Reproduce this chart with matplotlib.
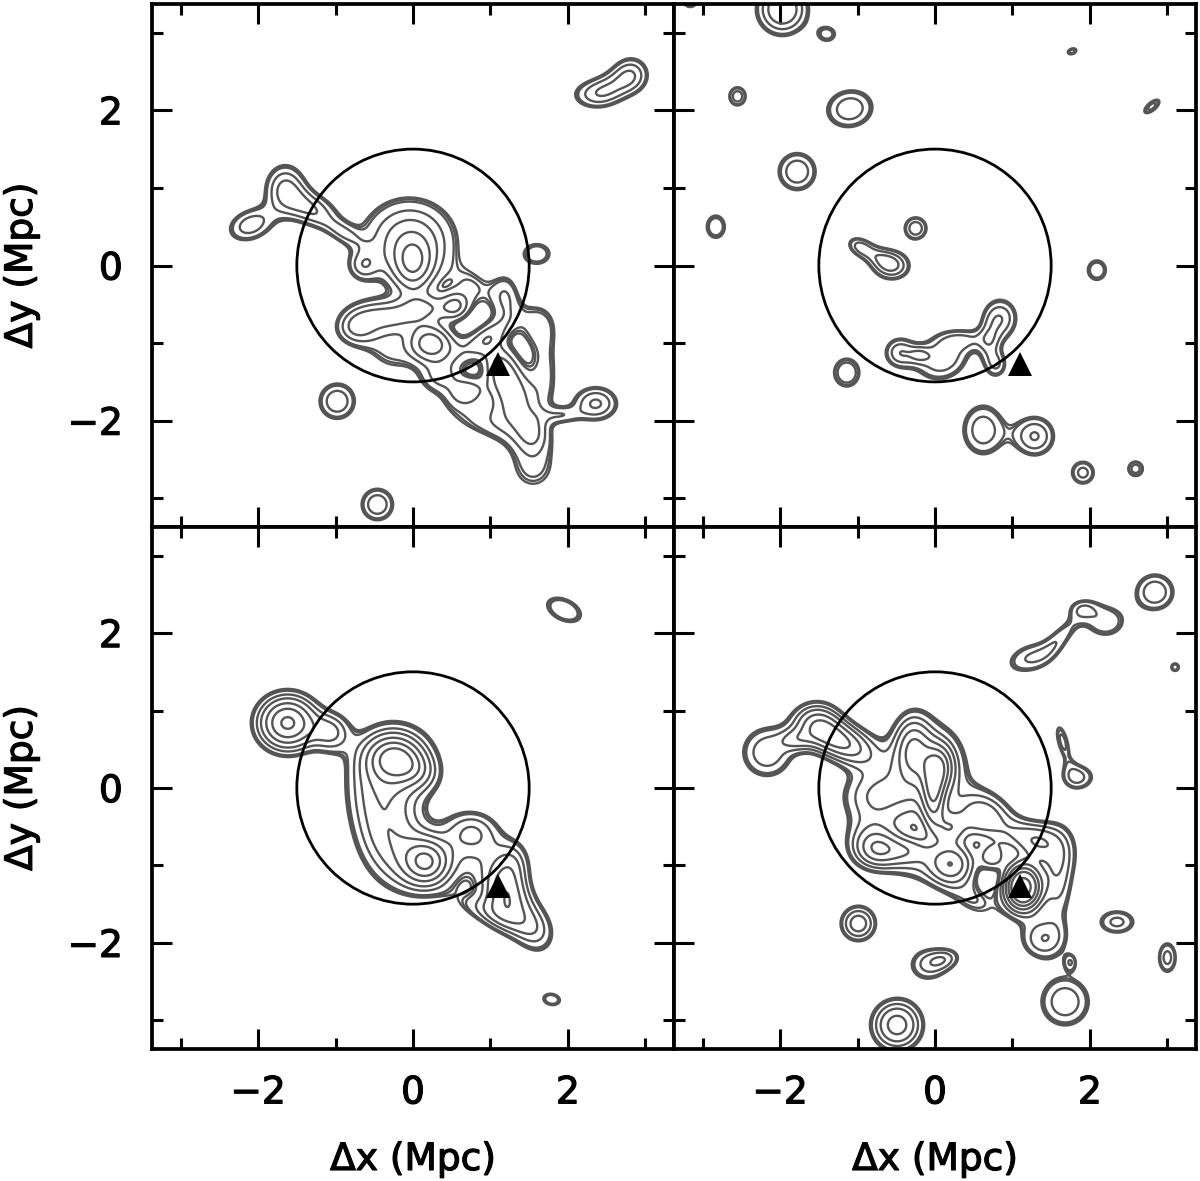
import numpy as np
import matplotlib
matplotlib.use('Agg')
import matplotlib.pyplot as plt
import matplotlib.patheffects as pe
from matplotlib.patches import Circle
from matplotlib.ticker import MultipleLocator

# contour levels and clumps: x, y, sx, sy, angle, peak
levels = [1.0, 1.08, 1.18, 1.6, 2.1, 2.8, 3.6, 4.5, 6, 8]

blobs_tl = [
    (-2.1, 0.52, 0.24, 0.16, 20, 1.9), (-1.65, 1.0, 0.2, 0.24, 0, 2.1),
    (-1.3, 0.72, 0.25, 0.16, -25, 1.9), (-0.9, 0.42, 0.2, 0.09, -30, 1.15),
    (-0.05, 0.32, 0.47, 0.42, 0, 2.4), (0.0, 0.0, 0.18, 0.25, 0, 2.2),
    (-0.65, 0.0, 0.14, 0.14, 0, 1.3), (-0.75, -0.8, 0.2, 0.17, 0, 1.9),
    (-0.35, -0.65, 0.3, 0.15, -10, 1.7), (0.15, -0.55, 0.25, 0.13, 0, 1.6),
    (0.22, -1.0, 0.19, 0.17, 0, 2.7), (-0.3, -1.1, 0.3, 0.25, -30, 1.2),
    (0.55, -0.53, 0.13, 0.13, 0, 1.5), (0.8, -0.3, 0.25, 0.2, -45, 1.0),
    (0.5, -1.1, 0.25, 0.2, 0, 0.9), (1.2, -0.4, 0.14, 0.24, 0, 1.35),
    (0.95, -0.92, 0.28, 0.12, 35, 1.35), (1.15, -1.34, 0.17, 0.28, 20, 2.2),
    (1.35, -1.75, 0.24, 0.27, 0, 1.6), (0.7, -1.62, 0.18, 0.13, 15, 1.5),
    (0.35, -1.45, 0.2, 0.15, 0, 1.4), (0.9, -2.0, 0.5, 0.2, -15, 1.2),
    (1.6, -0.75, 0.22, 0.25, 0, 1.25), (1.72, -1.35, 0.15, 0.35, 0, 1.1),
    (2.36, -1.78, 0.22, 0.17, 0, 2.2), (1.93, -1.93, 0.16, 0.08, 0, 1.1),
    (1.55, -2.15, 0.16, 0.2, 0, 1.15), (1.55, -2.62, 0.3, 0.3, 0, 1.22),
    (1.6, 0.15, 0.18, 0.14, 0, 1.5), (-0.98, -1.75, 0.19, 0.19, 0, 2.05),
    (-0.46, -3.08, 0.17, 0.17, 0, 2.05), (2.82, 2.46, 0.18, 0.18, 0, 1.9),
    (2.32, 2.2, 0.24, 0.15, 0, 1.45), (2.55, 2.3, 0.2, 0.15, 20, 1.1),
]
blobs_tr = [
    (-1.97, 3.3, 0.24, 0.24, 0, 2.8), (-3.16, 3.42, 0.1, 0.1, 0, 1.5),
    (-1.39, 2.98, 0.13, 0.11, 0, 1.3), (-2.55, 2.18, 0.09, 0.1, 0, 2.0),
    (-1.1, 2.02, 0.25, 0.2, 10, 2.0), (-1.78, 1.21, 0.2, 0.2, 0, 2.05),
    (-2.83, 0.5, 0.13, 0.16, 0, 1.5), (-0.25, 0.48, 0.12, 0.12, 0, 2.0),
    (-0.56, 0.0, 0.19, 0.15, 0, 1.95), (-0.98, 0.25, 0.13, 0.09, -25, 1.4),
    (-0.75, 0.12, 0.2, 0.1, -25, 1.1), (0.85, -0.68, 0.17, 0.2, 0, 2.0),
    (0.1, -1.2, 0.27, 0.21, 25, 2.05), (-0.46, -1.12, 0.15, 0.15, 0, 1.9),
    (0.4, -0.95, 0.25, 0.1, 0, 1.1), (0.7, -1.05, 0.1, 0.25, 0, 1.15),
    (0.82, -1.28, 0.1, 0.13, 0, 1.25), (-0.2, -1.15, 0.1, 0.08, 0, 1.0),
    (-1.14, -1.38, 0.2, 0.22, 0, 1.4), (0.62, -2.12, 0.22, 0.27, 0, 1.95),
    (1.29, -2.2, 0.2, 0.2, 0, 2.15), (2.09, -0.06, 0.13, 0.14, 0, 1.5),
    (1.91, -2.67, 0.13, 0.13, 0, 1.8), (2.59, -2.62, 0.08, 0.08, 0, 2.0),
    (2.8, 2.05, 0.18, 0.08, 40, 1.25), (1.77, 2.76, 0.08, 0.05, 20, 1.3),
]
blobs_bl = [
    (-1.62, 0.84, 0.27, 0.25, 0, 4.7), (-1.05, 0.72, 0.17, 0.18, 0, 1.8),
    (-0.26, 0.4, 0.24, 0.2, 0, 2.6), (0.0, 0.25, 0.22, 0.16, -25, 1.3),
    (-0.22, 0.3, 0.42, 0.42, 0, 1.9), (-0.45, -0.25, 0.3, 0.45, 0, 1.7),
    (-0.2, -0.7, 0.3, 0.3, 0, 1.4), (0.18, -0.95, 0.2, 0.2, 0, 3.2),
    (0.0, -1.1, 0.38, 0.3, 0, 1.2), (0.75, -0.55, 0.25, 0.2, 0, 1.7),
    (0.9, -0.9, 0.4, 0.3, 0, 1.0), (1.2, -1.38, 0.2, 0.28, 10, 3.0),
    (1.55, -1.8, 0.2, 0.28, 25, 1.8), (0.95, -1.6, 0.35, 0.13, -20, 1.2),
    (1.3, -0.95, 0.15, 0.2, 0, 1.0), (1.95, 2.3, 0.24, 0.14, -25, 1.6),
    (1.79, -2.73, 0.12, 0.08, -10, 1.5),
]
blobs_br = [
    (-2.17, 0.46, 0.26, 0.26, 0, 2.0), (-1.52, 0.85, 0.22, 0.2, 0, 2.2),
    (-1.22, 0.6, 0.32, 0.17, -25, 3.6), (-1.8, 0.62, 0.15, 0.1, 0, 1.2),
    (-0.28, 0.5, 0.16, 0.28, 0, 2.6), (0.06, 0.28, 0.13, 0.2, 0, 2.6),
    (-0.02, -0.1, 0.1, 0.28, 0, 2.8), (-0.1, 0.2, 0.45, 0.55, 0, 1.8),
    (-0.8, -0.1, 0.33, 0.25, 0, 1.7), (-0.85, -0.7, 0.25, 0.25, 0, 1.5),
    (-0.35, -0.95, 0.35, 0.2, -20, 1.2), (0.5, -1.45, 0.35, 0.2, -30, 1.15),
    (-0.75, -0.79, 0.18, 0.16, 0, 1.6), (-0.35, -0.8, 0.22, 0.12, 0, 1.2),
    (0.22, -0.97, 0.2, 0.18, 0, 3.0), (0.74, -0.89, 0.12, 0.12, 0, 1.7),
    (0.19, -0.52, 0.14, 0.14, 0, 1.7), (0.55, -0.4, 0.2, 0.18, 0, 1.3),
    (0.75, -0.35, 0.3, 0.2, -35, 1.4), (1.1, -0.6, 0.25, 0.15, 0, 1.25),
    (1.14, -1.28, 0.16, 0.2, 0, 7.0), (1.4, -1.95, 0.22, 0.2, 0, 2.0),
    (1.32, -0.72, 0.18, 0.16, 0, 1.5), (1.6, -0.8, 0.2, 0.28, 0, 1.45),
    (1.6, -1.3, 0.14, 0.35, 0, 1.4), (1.75, -2.25, 0.06, 0.08, 0, 1.2),
    (-0.99, -1.75, 0.17, 0.17, 0, 2.5), (-0.09, -2.28, 0.2, 0.17, 0, 1.7),
    (0.15, -2.2, 0.15, 0.1, 10, 1.25), (1.68, -2.76, 0.26, 0.26, 0, 2.0),
    (-0.49, -3.06, 0.23, 0.23, 0, 3.2), (1.85, 0.14, 0.17, 0.13, 0, 1.7),
    (1.65, 0.6, 0.09, 0.28, 15, 1.25), (2.35, -1.73, 0.2, 0.13, 0, 1.75),
    (3.0, -2.19, 0.1, 0.17, 0, 1.8), (2.84, 2.53, 0.2, 0.19, 0, 2.05),
    (3.1, 1.56, 0.06, 0.06, 0, 1.4), (1.22, 1.68, 0.26, 0.15, 20, 1.6),
    (1.62, 1.95, 0.25, 0.1, 50, 1.2), (2.2, 2.15, 0.24, 0.19, 0, 1.5),
    (1.9, 2.32, 0.15, 0.1, 0, 1.1),
]

tri_x = [1.1]
tri_y = [-1.27]
radius = 1.5
lim = 3.37

grid = np.linspace(-3.8, 3.8, 600)
xx, yy = np.meshgrid(grid, grid)


def make_map(blobs):
    z = np.zeros_like(xx)
    for x0, y0, sx, sy, ang, amp in blobs:
        t = np.radians(ang)
        u = (xx - x0) * np.cos(t) + (yy - y0) * np.sin(t)
        v = -(xx - x0) * np.sin(t) + (yy - y0) * np.cos(t)
        z += amp * np.exp(-0.5 * (u / sx) ** 2 - 0.5 * (v / sy) ** 2)
    return z


plt.rcParams['font.family'] = 'DejaVu Sans'
thick = [pe.withStroke(linewidth=0.9, foreground='black')]

fig = plt.figure(figsize=(12, 11.81), dpi=100)
x0, x1, xm = 152 / 1200, 1196 / 1200, 674 / 1200
y1, y0, ym = 1 - 4 / 1181, 1 - 1049 / 1181, 1 - 527 / 1181
boxes = [(x0, ym, xm - x0, y1 - ym), (xm, ym, x1 - xm, y1 - ym),
         (x0, y0, xm - x0, ym - y0), (xm, y0, x1 - xm, ym - y0)]
panels = [blobs_tl, blobs_tr, blobs_bl, blobs_br]

for i, (box, blobs) in enumerate(zip(boxes, panels)):
    ax = fig.add_axes(box)
    ax.contour(xx, yy, make_map(blobs), levels=levels, colors='#555555',
               linewidths=1.7)
    ax.add_patch(Circle((0, 0), radius, fill=False, ec='black', lw=2.0, zorder=4))
    ax.plot(tri_x, tri_y, '^', color='black', ms=17, mew=0, zorder=5)
    ax.set_xlim(-lim, lim)
    ax.set_ylim(-lim, lim)
    for sp in ax.spines.values():
        sp.set_linewidth(2.7)
    ax.xaxis.set_major_locator(MultipleLocator(2))
    ax.xaxis.set_minor_locator(MultipleLocator(1))
    ax.yaxis.set_major_locator(MultipleLocator(2))
    ax.yaxis.set_minor_locator(MultipleLocator(1))
    ax.tick_params(which='major', direction='in', length=14.4, width=2.2, top=True,
                   right=True, labelsize=27)
    ax.tick_params(which='minor', direction='in', length=7.7, width=2.2, top=True,
                   right=True)
    ax.tick_params(axis='x', pad=19)
    ax.tick_params(axis='y', pad=21)
    ax.tick_params(labelbottom=i >= 2, labelleft=i % 2 == 0)
    for lab in ax.get_xticklabels() + ax.get_yticklabels():
        lab.set_path_effects(thick)
    if i >= 2:
        ax.set_xlabel('Δx (Mpc)', fontsize=27, labelpad=22, path_effects=thick)
    if i % 2 == 0:
        ax.set_ylabel('Δy (Mpc)', fontsize=27, labelpad=20, path_effects=thick)

fig.savefig('out.png', dpi=100)
